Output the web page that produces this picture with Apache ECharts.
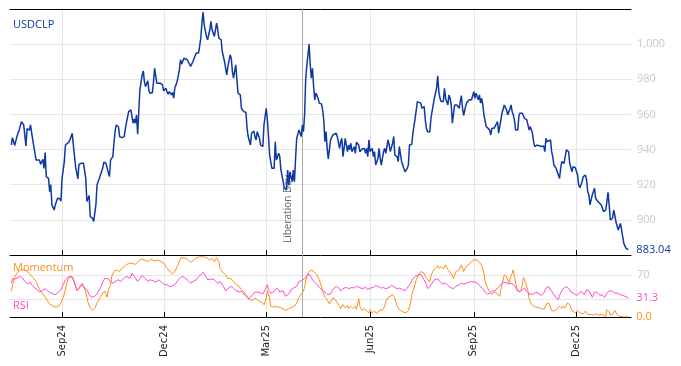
<!DOCTYPE html>
<html><head><meta charset="utf-8">
<script src="https://cdn.jsdelivr.net/npm/echarts@6/dist/echarts.min.js"></script>
<style>html,body{margin:0;padding:0;background:#fff}#c{width:681px;height:366px}</style>
</head><body><div id="c"></div>
<script>
// ---------- DATA ----------
const priceDates = [
'2024-07-18','2024-07-19','2024-07-21','2024-07-23','2024-07-25','2024-07-27','2024-07-29','2024-07-31',
'2024-08-01','2024-08-03','2024-08-04','2024-08-06','2024-08-07','2024-08-09','2024-08-10','2024-08-12','2024-08-13','2024-08-15','2024-08-16','2024-08-17','2024-08-18','2024-08-20','2024-08-21','2024-08-22','2024-08-23','2024-08-25','2024-08-26','2024-08-28','2024-08-30','2024-08-31',
'2024-09-01','2024-09-03','2024-09-04','2024-09-05','2024-09-07','2024-09-08','2024-09-10','2024-09-11','2024-09-13','2024-09-15','2024-09-16','2024-09-18','2024-09-20','2024-09-21','2024-09-22','2024-09-23','2024-09-25','2024-09-26','2024-09-28','2024-09-29',
'2024-10-01','2024-10-02','2024-10-04','2024-10-05','2024-10-07','2024-10-08','2024-10-10','2024-10-11','2024-10-13','2024-10-14','2024-10-16','2024-10-17','2024-10-18','2024-10-19','2024-10-21','2024-10-22','2024-10-24','2024-10-26','2024-10-27','2024-10-28','2024-10-30','2024-10-31',
'2024-11-01','2024-11-02','2024-11-03','2024-11-04','2024-11-05','2024-11-06','2024-11-07','2024-11-08','2024-11-09','2024-11-11','2024-11-12','2024-11-13','2024-11-14','2024-11-16','2024-11-17','2024-11-18','2024-11-20','2024-11-21','2024-11-22','2024-11-24','2024-11-25','2024-11-27','2024-11-28','2024-11-29','2024-11-30',
'2024-12-02','2024-12-03','2024-12-04','2024-12-05','2024-12-07','2024-12-08','2024-12-09','2024-12-10','2024-12-11','2024-12-12','2024-12-14','2024-12-15','2024-12-16','2024-12-18','2024-12-19','2024-12-21','2024-12-22','2024-12-24','2024-12-25','2024-12-26','2024-12-28','2024-12-29','2024-12-31',
'2025-01-02','2025-01-03','2025-01-04','2025-01-05','2025-01-07','2025-01-08','2025-01-10','2025-01-11','2025-01-12','2025-01-14','2025-01-16','2025-01-17','2025-01-18','2025-01-20','2025-01-21','2025-01-23','2025-01-25','2025-01-26','2025-01-28','2025-01-29','2025-01-30','2025-01-31',
'2025-02-02','2025-02-03','2025-02-04','2025-02-06','2025-02-07','2025-02-08','2025-02-09','2025-02-11','2025-02-12','2025-02-13','2025-02-15','2025-02-16','2025-02-18','2025-02-19','2025-02-20','2025-02-21','2025-02-23','2025-02-24','2025-02-26','2025-02-27',
'2025-03-01','2025-03-02','2025-03-03','2025-03-04','2025-03-06','2025-03-07','2025-03-08','2025-03-09','2025-03-10','2025-03-12','2025-03-13','2025-03-14','2025-03-16','2025-03-17','2025-03-19','2025-03-20','2025-03-21','2025-03-22','2025-03-24','2025-03-25','2025-03-26','2025-03-27','2025-03-28','2025-03-30','2025-03-31',
'2025-04-01','2025-04-02','2025-04-03','2025-04-04','2025-04-05','2025-04-06','2025-04-08','2025-04-09','2025-04-10','2025-04-11','2025-04-12','2025-04-13','2025-04-14','2025-04-16','2025-04-17','2025-04-19','2025-04-20','2025-04-21','2025-04-22','2025-04-23','2025-04-24','2025-04-25','2025-04-26','2025-04-27','2025-04-29','2025-04-30',
'2025-05-02','2025-05-03','2025-05-05','2025-05-06','2025-05-07','2025-05-08','2025-05-09','2025-05-10','2025-05-12','2025-05-13','2025-05-14','2025-05-15','2025-05-16','2025-05-18','2025-05-19','2025-05-20','2025-05-21','2025-05-22','2025-05-23','2025-05-25','2025-05-26','2025-05-27','2025-05-28','2025-05-29','2025-05-30','2025-05-31',
'2025-06-01','2025-06-03','2025-06-04','2025-06-05','2025-06-06','2025-06-08','2025-06-09','2025-06-10','2025-06-11','2025-06-13','2025-06-14','2025-06-15','2025-06-17','2025-06-18','2025-06-19','2025-06-21','2025-06-22','2025-06-23','2025-06-25','2025-06-26','2025-06-27','2025-06-29','2025-06-30',
'2025-07-01','2025-07-02','2025-07-04','2025-07-05','2025-07-06','2025-07-08','2025-07-09','2025-07-10','2025-07-11','2025-07-13','2025-07-14','2025-07-16','2025-07-17','2025-07-19','2025-07-20','2025-07-21','2025-07-22','2025-07-24','2025-07-25','2025-07-27','2025-07-28','2025-07-30','2025-07-31',
'2025-08-01','2025-08-02','2025-08-03','2025-08-05','2025-08-06','2025-08-07','2025-08-09','2025-08-10','2025-08-11','2025-08-12','2025-08-13','2025-08-14','2025-08-15','2025-08-16','2025-08-17','2025-08-19','2025-08-20','2025-08-21','2025-08-22','2025-08-23','2025-08-25','2025-08-26','2025-08-28','2025-08-29','2025-08-30',
'2025-09-01','2025-09-02','2025-09-03','2025-09-05','2025-09-06','2025-09-07','2025-09-08','2025-09-09','2025-09-10','2025-09-12','2025-09-13','2025-09-15','2025-09-16','2025-09-17','2025-09-19','2025-09-20','2025-09-22','2025-09-23','2025-09-24','2025-09-26','2025-09-27','2025-09-28','2025-09-29','2025-09-30',
'2025-10-01','2025-10-03','2025-10-04','2025-10-05','2025-10-06','2025-10-07','2025-10-08','2025-10-10','2025-10-11','2025-10-12','2025-10-14','2025-10-15','2025-10-16','2025-10-18','2025-10-19','2025-10-20','2025-10-21','2025-10-23','2025-10-24','2025-10-25','2025-10-27','2025-10-28','2025-10-29','2025-10-31',
'2025-11-02','2025-11-03','2025-11-04','2025-11-05','2025-11-06','2025-11-08','2025-11-09','2025-11-10','2025-11-11','2025-11-13','2025-11-14','2025-11-16','2025-11-17','2025-11-18','2025-11-20','2025-11-21','2025-11-22','2025-11-24','2025-11-25','2025-11-27','2025-11-28','2025-11-29','2025-11-30',
'2025-12-02','2025-12-03','2025-12-04','2025-12-06','2025-12-07','2025-12-09','2025-12-10','2025-12-11','2025-12-12','2025-12-13','2025-12-15','2025-12-16','2025-12-17','2025-12-18','2025-12-20','2025-12-21','2025-12-23','2025-12-24','2025-12-25','2025-12-27','2025-12-28','2025-12-29','2025-12-30','2025-12-31',
'2026-01-01','2026-01-02','2026-01-03','2026-01-04','2026-01-05','2026-01-07','2026-01-08','2026-01-09','2026-01-10','2026-01-12','2026-01-13','2026-01-14','2026-01-15','2026-01-16'
];
const usdclp = [
942.6,946.8,942.3,947.4,951.2,955.9,954,942,
952,951,954,945.5,944.5,934,933,934,931.6,934.5,929.3,938.3,924.6,923.6,916,920,908.5,905.6,908.5,912.3,912,910.7,
923.6,933.1,942.6,942.2,944.2,945.5,949.3,942.6,930.3,923.3,931.6,932.2,932.2,932,923.6,910.4,913.8,901.8,900.9,899,
908.5,920,923.6,925.5,929.3,932.8,932.2,929.3,924.6,934.1,936,943.6,950.2,954,953,947.4,946.8,947.4,948.3,955,961.6,962.6,
962.6,962,955,957.5,955,959.7,948.7,961.6,974,982.5,984.8,978.7,975.9,979.1,973.4,972.1,972.3,977.8,986.3,977.8,978.3,977.8,977.2,976.8,973.4,
974.9,973,971.5,973,971.1,972.6,969.2,975.3,976.8,978.7,985.4,991.1,988.6,992,992.4,991.1,991.5,987.3,987.3,990.1,993.5,994.9,994.9,
1003.4,1012,1018.2,1011,1004.4,1002.5,1008.2,1012.9,1008.2,1004.4,1012,1008.2,1003.4,1002.5,995.8,990.1,982.5,987.3,993.9,992,984.4,980.6,
988.2,979.7,972.1,971.1,963.5,963.5,961.6,961.2,952.1,947.4,942.6,949.3,950.6,947.4,945.5,950.2,946.4,942.6,941.7,954,
963.5,956.9,947.4,936.9,929.3,928.4,929.3,944.5,934.1,937.9,936,928.4,921.7,917.9,917,928.4,919.8,927.4,921.7,928.4,921.7,935,946.4,951.2,952.1,
947.4,954,950.2,959.7,980.6,988.2,1000,988.2,980.6,986.3,975.9,968.3,972.1,969.2,966.4,966,962.6,956.9,944.5,950.2,940.7,934.7,935.1,945.5,948.3,949.3,
949.3,947.4,940.7,944.5,946.4,936,940.7,946.4,938.8,942.6,939.8,943.6,938.8,941.7,937.9,944.2,943.6,942.6,938.8,940.3,939.2,940.7,937.9,940.7,936,945.5,
938.8,940.7,936,938.8,931.2,935,940.7,935,931.2,938.8,940.7,937.9,945.5,942.6,938.8,943.6,947.4,936.9,936,933.1,941.7,933.1,931.2,
929.3,927.4,929.3,931.2,942.6,943,949.3,950.2,957.8,967.3,966.8,966.4,963.5,964.5,956.9,952.1,950.2,950.2,957.8,965.4,969.2,974.9,982,
973,969.2,967.3,967.3,974.9,969.2,965.4,971.1,969.2,965.4,955,954,965.4,966.4,965.4,963.5,967.3,970.7,963.5,959.4,965.4,967,968.3,967.3,968.3,
973,969.2,972.1,968.3,971.1,966.4,969.2,965.4,959.7,953.1,954,951.2,948.3,952.1,952.1,953.1,955.9,949.3,953.1,960.7,959.7,965.4,966.4,962.6,
959.7,963.1,965.4,961.6,959.7,956.9,951.2,951.2,959.4,960.7,960.7,961.2,957.8,956.9,957.8,951.2,953.1,949.3,944.5,941.7,942.6,941.7,942.2,941.7,
942,938.8,946.4,944.5,944.5,945.5,938.8,936,931.2,929.3,927.4,923.6,929.3,933.1,932.2,931.2,939.8,938.8,932.2,927.4,930.3,929.3,929.7,
925.5,919.8,918.3,921.7,924.6,925.5,922.7,916,914.2,908.5,914.2,916,918,912.3,910.4,910.4,908.5,906.6,904.7,905.6,910.4,915.7,908.5,899.9,
900.9,900.9,905.6,902.7,898.9,894.2,896.1,898,894.2,886.6,885.7,883.8,882.8,883.04
];

const momDates = [
'2024-07-18','2024-07-20','2024-07-22','2024-07-25','2024-07-28','2024-07-31',
'2024-08-03','2024-08-06','2024-08-09','2024-08-12','2024-08-15','2024-08-18','2024-08-21','2024-08-24','2024-08-27','2024-08-29','2024-08-31',
'2024-09-03','2024-09-05','2024-09-07','2024-09-10','2024-09-12','2024-09-14','2024-09-16','2024-09-19','2024-09-20','2024-09-22','2024-09-24','2024-09-26','2024-09-28','2024-09-30',
'2024-10-02','2024-10-05','2024-10-07','2024-10-09','2024-10-11','2024-10-12','2024-10-14','2024-10-15','2024-10-17','2024-10-19','2024-10-22','2024-10-24','2024-10-27','2024-10-30',
'2024-11-02','2024-11-05','2024-11-08','2024-11-10','2024-11-13','2024-11-16','2024-11-19','2024-11-22','2024-11-25','2024-11-28',
'2024-12-01','2024-12-03','2024-12-06','2024-12-08','2024-12-10','2024-12-13','2024-12-15','2024-12-18','2024-12-21','2024-12-24','2024-12-26','2024-12-29',
'2025-01-01','2025-01-04','2025-01-07','2025-01-10','2025-01-12','2025-01-14','2025-01-16','2025-01-18','2025-01-19','2025-01-21','2025-01-24','2025-01-26','2025-01-28','2025-01-31',
'2025-02-02','2025-02-05','2025-02-07','2025-02-10','2025-02-12','2025-02-14','2025-02-17','2025-02-19','2025-02-20','2025-02-23','2025-02-25','2025-02-27',
'2025-03-01','2025-03-02','2025-03-04','2025-03-05','2025-03-07','2025-03-09','2025-03-12','2025-03-14','2025-03-17','2025-03-19','2025-03-21','2025-03-24','2025-03-26','2025-03-28','2025-03-30',
'2025-04-01','2025-04-03','2025-04-04','2025-04-06','2025-04-08','2025-04-10','2025-04-12','2025-04-13','2025-04-15','2025-04-17','2025-04-19','2025-04-20','2025-04-22','2025-04-24','2025-04-26','2025-04-27','2025-04-29',
'2025-05-01','2025-05-03','2025-05-05','2025-05-06','2025-05-08','2025-05-10','2025-05-12','2025-05-13','2025-05-15','2025-05-17','2025-05-19','2025-05-20','2025-05-22','2025-05-23','2025-05-25','2025-05-27','2025-05-29','2025-05-31',
'2025-06-01','2025-06-03','2025-06-05','2025-06-07','2025-06-08','2025-06-10','2025-06-12','2025-06-14','2025-06-15','2025-06-17','2025-06-19','2025-06-21','2025-06-23','2025-06-24','2025-06-26','2025-06-28','2025-06-30',
'2025-07-01','2025-07-03','2025-07-05','2025-07-07','2025-07-08','2025-07-10','2025-07-12','2025-07-14','2025-07-16','2025-07-17','2025-07-19','2025-07-20','2025-07-22','2025-07-24','2025-07-25','2025-07-27','2025-07-29','2025-07-31',
'2025-08-01','2025-08-03','2025-08-05','2025-08-07','2025-08-09','2025-08-10','2025-08-12','2025-08-14','2025-08-16','2025-08-17','2025-08-19','2025-08-21','2025-08-23','2025-08-25','2025-08-26','2025-08-28','2025-08-30',
'2025-09-01','2025-09-02','2025-09-04','2025-09-06','2025-09-08','2025-09-10','2025-09-11','2025-09-13','2025-09-15','2025-09-17','2025-09-18','2025-09-20','2025-09-22','2025-09-24','2025-09-25','2025-09-27','2025-09-28','2025-09-30',
'2025-10-02','2025-10-04','2025-10-06','2025-10-07','2025-10-09','2025-10-11','2025-10-13','2025-10-14','2025-10-15','2025-10-17','2025-10-19','2025-10-20','2025-10-22','2025-10-24','2025-10-26','2025-10-27','2025-10-29','2025-10-31',
'2025-11-02','2025-11-03','2025-11-05','2025-11-07','2025-11-09','2025-11-11','2025-11-12','2025-11-14','2025-11-16','2025-11-18','2025-11-19','2025-11-21','2025-11-23','2025-11-25','2025-11-27','2025-11-28','2025-11-30',
'2025-12-02','2025-12-04','2025-12-05','2025-12-07','2025-12-09','2025-12-11','2025-12-12','2025-12-14','2025-12-16','2025-12-18','2025-12-20','2025-12-21','2025-12-23','2025-12-25','2025-12-27','2025-12-28','2025-12-30','2025-12-31',
'2026-01-02','2026-01-04','2026-01-06','2026-01-08','2026-01-09','2026-01-11','2026-01-13','2026-01-15','2026-01-16'
];
const momentum = [
42.6,60,70,77,79,77,
72,66,59,45.4,38.2,30.5,21.7,17.9,16.3,17.9,23.4,
38.2,54.7,65.6,67.3,59,45.4,47,56.3,56.3,41.5,24.5,15.1,11.3,14,
23.4,32.7,39.8,42.6,32.7,45.4,52.5,67.3,75.5,78.2,75.5,81,85.4,89.2,
89.2,87.6,93.1,96.4,94.7,92,96.4,93.1,94.7,92,
87.6,81,74.4,71.1,75.5,87.6,97.5,98.5,96.4,90.9,93.1,98.5,
100,100,99,94.2,97.5,92,98.5,92,81,75.5,70,63.4,64.5,59,
54.7,50.8,45.4,39.8,34.4,28.9,27.2,31.6,28.9,26.1,24.5,20.6,
31.6,43.7,31.6,17.9,16.3,17.9,16.3,15.1,12.4,11.3,14,16.3,17.9,23.4,32.7,
38.2,42.6,50.8,67.3,75.5,77.7,75.5,75.5,70,61.8,50.8,42.6,32.7,28.9,21.7,24.5,31.6,
29,23.4,17.9,14,20.6,15.1,19,14,17.9,14,17.9,12.4,30.5,17.9,10.8,14,9.7,7,
12.4,7,9.7,5.3,7,12.4,10.8,17.9,26.1,32.7,34.4,37.1,31.6,23.4,14,10.8,8.6,
7,7,10.8,23.4,37.1,48,61.8,70,75.5,75.5,72.8,67.3,61.8,59,68.9,76.6,81,85.4,
81,83.7,79.9,86.5,78.2,81,72.8,63.4,75.5,73,78.2,86.5,75.5,83.7,81,87.6,92,
94.7,95.8,95,90.9,85.4,72.8,60.1,49.1,41.5,38.2,38.2,41.5,38.2,34.4,45.4,61.8,70,67,
56.3,67.3,78.2,67.3,49.1,41.5,45.4,53.6,65.6,56.3,43.7,30.5,21.7,17.9,16.3,14,15,14,
12.4,16.3,23.4,21.7,10.8,9.7,12.4,14,17.9,14,17.9,15,23.4,20.6,10.8,9.7,7,
10.8,7,4.2,5.3,9.7,4.2,3.1,4.2,2.6,5.3,3.1,3.1,4.2,3.1,1.4,12.4,8.6,3.1,
4.2,10.8,4.2,1.4,0.3,0.3,0.3,0.3,0
];

const rsiDates = [
'2024-07-18','2024-07-19','2024-07-22','2024-07-24','2024-07-26','2024-07-28','2024-07-30',
'2024-08-02','2024-08-04','2024-08-05','2024-08-08','2024-08-10','2024-08-12','2024-08-14','2024-08-17','2024-08-19','2024-08-21','2024-08-24','2024-08-26','2024-08-28','2024-08-31',
'2024-09-02','2024-09-04','2024-09-07','2024-09-09','2024-09-11','2024-09-13','2024-09-14','2024-09-16','2024-09-18','2024-09-20','2024-09-23','2024-09-25','2024-09-27','2024-09-30',
'2024-10-02','2024-10-05','2024-10-07','2024-10-09','2024-10-12','2024-10-14','2024-10-16','2024-10-19','2024-10-21','2024-10-23','2024-10-26','2024-10-28','2024-10-31',
'2024-11-02','2024-11-04','2024-11-07','2024-11-09','2024-11-11','2024-11-14','2024-11-16','2024-11-18','2024-11-21','2024-11-23','2024-11-26','2024-11-28','2024-11-30',
'2024-12-03','2024-12-05','2024-12-07','2024-12-10','2024-12-12','2024-12-15','2024-12-17','2024-12-19','2024-12-22','2024-12-24','2024-12-26','2024-12-29','2024-12-31',
'2025-01-02','2025-01-04','2025-01-06','2025-01-08','2025-01-09','2025-01-12','2025-01-14','2025-01-17','2025-01-19','2025-01-22','2025-01-24','2025-01-26','2025-01-29','2025-01-31',
'2025-02-02','2025-02-05','2025-02-07','2025-02-10','2025-02-12','2025-02-14','2025-02-17','2025-02-19','2025-02-21','2025-02-24','2025-02-26','2025-02-28',
'2025-03-02','2025-03-03','2025-03-05','2025-03-08','2025-03-10','2025-03-12','2025-03-13','2025-03-16','2025-03-18','2025-03-21','2025-03-23','2025-03-25','2025-03-28','2025-03-30',
'2025-04-01','2025-04-04','2025-04-06','2025-04-08','2025-04-10','2025-04-11','2025-04-13','2025-04-15','2025-04-17','2025-04-20','2025-04-22','2025-04-24','2025-04-27','2025-04-29',
'2025-05-02','2025-05-04','2025-05-06','2025-05-09','2025-05-11','2025-05-13','2025-05-16','2025-05-18','2025-05-20','2025-05-23','2025-05-25','2025-05-28','2025-05-30',
'2025-06-01','2025-06-04','2025-06-06','2025-06-08','2025-06-11','2025-06-13','2025-06-15','2025-06-18','2025-06-20','2025-06-23','2025-06-25','2025-06-27','2025-06-30',
'2025-07-02','2025-07-04','2025-07-07','2025-07-09','2025-07-11','2025-07-14','2025-07-16','2025-07-17','2025-07-19','2025-07-21','2025-07-22','2025-07-24','2025-07-26','2025-07-28','2025-07-31',
'2025-08-02','2025-08-04','2025-08-07','2025-08-09','2025-08-11','2025-08-14','2025-08-16','2025-08-19','2025-08-21','2025-08-23','2025-08-26','2025-08-28','2025-08-30',
'2025-09-02','2025-09-04','2025-09-06','2025-09-09','2025-09-11','2025-09-13','2025-09-15','2025-09-17','2025-09-18','2025-09-20','2025-09-22','2025-09-25','2025-09-27','2025-09-30',
'2025-10-02','2025-10-04','2025-10-07','2025-10-09','2025-10-11','2025-10-13','2025-10-14','2025-10-16','2025-10-18','2025-10-20','2025-10-21','2025-10-24','2025-10-26','2025-10-28','2025-10-31',
'2025-11-02','2025-11-04','2025-11-06','2025-11-09','2025-11-11','2025-11-13','2025-11-15','2025-11-16','2025-11-18','2025-11-21','2025-11-22','2025-11-24','2025-11-26','2025-11-28','2025-11-29',
'2025-12-01','2025-12-03','2025-12-05','2025-12-06','2025-12-08','2025-12-10','2025-12-12','2025-12-14','2025-12-15','2025-12-17','2025-12-19','2025-12-21','2025-12-22','2025-12-24','2025-12-26','2025-12-28','2025-12-30','2025-12-31',
'2026-01-02','2026-01-04','2026-01-06','2026-01-07','2026-01-09','2026-01-11','2026-01-13','2026-01-14','2026-01-16'
];
const rsi = [
56.3,63.4,63.4,65.6,67.3,64.5,59,
54.7,58,53.6,48,45.4,41.5,43.7,47,43.7,41.5,38.2,37.1,39.8,45.4,
53.6,61.8,67.3,67.3,61.8,50.8,43.7,48,53.6,50.5,45.4,37.1,32.7,34.4,
38.2,48,58,64.5,63.4,59,56.3,60.1,61.8,59,64.5,67.3,64.5,
72.8,67.3,59,64.5,68.9,63.4,59,61.8,60.1,58,61.8,58,54.7,
53.6,50.8,50.8,53.6,59,65.6,67.3,64.5,60.1,56.3,59,61.8,67.3,
70,74.4,68.9,61.8,59,63.4,61.8,56.3,59,50.8,43.7,47,50.8,48,
43.7,41.5,42.6,36,32.7,30.5,37.1,41.5,41.5,39.8,38.2,45.4,
53.6,45.4,39.8,42.6,48,45.4,41.5,43.7,34.4,38.2,45.4,48,50.8,59,
60.1,63.4,68.9,71.1,65.6,61.8,58,53.6,49.1,43.7,41.5,37.1,38.2,45.4,
50.8,49.1,43.7,48,49.1,47,49.1,48,50.8,49.1,47,49.1,45.4,
48,49.1,52.5,50.8,48,49.1,47,49.1,52.5,49.1,47,48,45.4,
43.7,48,56.3,63.4,67.3,70,71.1,68.9,61.8,53.6,47,50.8,56.3,61.8,63.4,
59,54.7,56.3,52.5,49.1,47,50.8,53.6,56.3,54.7,56.3,58,59,
58,56.3,52.5,47,41.5,38.2,39.3,42.6,45.4,43.7,48,53.6,58,56.3,
54.7,56.3,52.5,45.4,41.5,43.7,47,48,42.6,38.2,36,38.2,41.5,39.8,36,
39.8,48,50.8,42.6,37.1,31.6,28.9,36,43.7,50.8,53.6,48,41.5,39.8,41.5,
36,38.2,42.6,41.5,37.1,45.4,43.7,37.1,32.7,41.5,41.5,37.1,34.4,36,32.7,39.8,43.7,41.5,
42.6,39.8,39.8,38.2,37.1,36,34.4,32.7,31.3
];

const tickDates  = ['2024-09-01','2024-12-01','2025-03-01','2025-06-01','2025-09-01','2025-12-01'];
const tickLabels = ['Sep24','Dec24','Mar25','Jun25','Sep25','Dec25'];
const priceTicks = [900, 920, 940, 960, 980, 1000];
const oscTicks   = [30, 70];
const oscLabels  = [70];
const eventDate  = '2025-04-02';
const eventName  = 'Liberation Day';

// ---------- CHART ----------
const DAY = 86400000;
function ts(s){ const p = s.split('-'); return Date.UTC(+p[0], +p[1]-1, +p[2]); }
const zip = (d, v) => d.map((x, i) => [ts(x), v[i]]);
const tickTs = tickDates.map(ts);
const xMin = ts(priceDates[0]) - 1.15 * DAY;
const xMax = ts(priceDates[0]) + 549.35 * DAY;

const BLUE = '#1038a5', ORANGE = '#ff8c1a', PINK = '#ff47d1';
const GRID = '#e6e6e6';
const sans = '"Open Sans", "Noto Sans", sans-serif';

function xAxisFor(gi, showLabel) {
  return {
    type: 'value', gridIndex: gi, min: xMin, max: xMax,
    axisLine: { show: true, onZero: false, lineStyle: { color: '#000', width: 1 } },
    axisTick: { show: true, inside: true, length: 5, lineStyle: { color: '#000' }, customValues: tickTs },
    axisLabel: {
      show: showLabel, customValues: tickTs, rotate: 90, margin: 8,
      color: '#222', fontFamily: '"DejaVu Sans", sans-serif', fontSize: 10,
      formatter: v => { const i = tickTs.indexOf(v); return i >= 0 ? tickLabels[i] : ''; }
    },
    splitLine: { show: true, lineStyle: { color: GRID, width: 1 } }
  };
}

const chart = echarts.init(document.getElementById('c'), null, { renderer: 'canvas' });
chart.setOption({
  animation: false,
  backgroundColor: '#fff',
  grid: [
    { left: 10, right: 50, top: 9, height: 246 },
    { left: 10, right: 50, top: 255, height: 62 }
  ],
  xAxis: [
    xAxisFor(0, false),
    { type: 'value', gridIndex: 0, position: 'top', min: xMin, max: xMax,
      axisLine: { show: true, onZero: false, lineStyle: { color: '#000', width: 1 } },
      axisTick: { show: false }, axisLabel: { show: false }, splitLine: { show: false } },
    xAxisFor(1, true)
  ],
  yAxis: [
    { type: 'value', gridIndex: 0, position: 'right', min: 880, max: 1020,
      axisLine: { show: false },
      axisTick: { show: false, customValues: priceTicks },
      axisLabel: { customValues: priceTicks, color: '#c8c8c8', fontFamily: sans, fontSize: 11, margin: 6,
        formatter: v => v.toLocaleString('en-US') },
      splitLine: { show: true, lineStyle: { color: GRID } } },
    { type: 'value', gridIndex: 1, position: 'right', min: 0, max: 103,
      axisLine: { show: false },
      axisTick: { show: false, customValues: oscTicks },
      axisLabel: { customValues: oscLabels, color: '#c8c8c8', fontFamily: sans, fontSize: 11, margin: 6 },
      splitLine: { show: true, lineStyle: { color: GRID } } }
  ],
  series: [
    { name: 'USDCLP', type: 'line', xAxisIndex: 0, yAxisIndex: 0, data: zip(priceDates, usdclp),
      showSymbol: false, symbol: 'none', lineStyle: { color: BLUE, width: 1.5 }, z: 3,
      endLabel: { show: true, distance: 8, color: BLUE, fontFamily: sans, fontSize: 11,
        formatter: p => p.value[1].toFixed(2) },
      markLine: { silent: true, symbol: 'none', animation: false, z: 1,
        lineStyle: { color: '#aaaaaa', width: 1, type: 'solid' },
        label: { show: true, formatter: eventName, position: 'insideStartTop', distance: [12, 9],
          color: '#666', fontFamily: sans, fontSize: 10 },
        data: [{ xAxis: ts(eventDate) }] } },
    { name: 'Momentum', type: 'line', xAxisIndex: 2, yAxisIndex: 1, data: zip(momDates, momentum),
      showSymbol: false, symbol: 'none', lineStyle: { color: ORANGE, width: 1 },
      endLabel: { show: true, distance: 8, color: ORANGE, fontFamily: sans, fontSize: 11,
        formatter: p => p.value[1].toFixed(1) } },
    { name: 'RSI', type: 'line', xAxisIndex: 2, yAxisIndex: 1, data: zip(rsiDates, rsi),
      showSymbol: false, symbol: 'none', lineStyle: { color: PINK, width: 1 },
      endLabel: { show: true, distance: 8, color: PINK, fontFamily: sans, fontSize: 11,
        formatter: p => p.value[1].toFixed(1) },
      markLine: { silent: true, symbol: 'none', animation: false,
        lineStyle: { color: '#aaaaaa', width: 1, type: 'solid' }, label: { show: false },
        data: [{ xAxis: ts(eventDate) }] } }
  ],
  graphic: [
    { type: 'text', x: 13, y: 25, style: { text: 'USDCLP', fill: BLUE, font: '11px ' + sans, verticalAlign: 'middle' } },
    { type: 'text', x: 13, y: 268, style: { text: 'Momentum', fill: ORANGE, font: '11px ' + sans, verticalAlign: 'middle' } },
    { type: 'text', x: 13, y: 306, style: { text: 'RSI', fill: PINK, font: '11px ' + sans, verticalAlign: 'middle' } }
  ]
});
</script>
</body></html>
